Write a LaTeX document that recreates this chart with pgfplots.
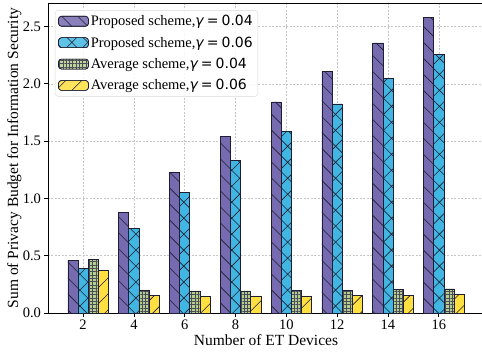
\documentclass[border=0pt]{standalone}
\usepackage{pgfplots}
\pgfplotsset{compat=1.18}
\usepackage{fontspec}
\setmainfont{Liberation Serif}
\newfontfamily\dejavu{DejaVu Sans}
\usetikzlibrary{patterns.meta}
\definecolor{cpur}{RGB}{118,107,176}
\definecolor{ccya}{RGB}{66,182,226}
\definecolor{cgre}{RGB}{180,206,140}
\definecolor{cyel}{RGB}{255,224,64}
\definecolor{cedge}{RGB}{30,30,50}
\newcommand{\g}[1]{{\dejavu\fontsize{14}{15}\selectfont{\itshape γ}\hspace{0.22em}=\hspace{0.22em}#1}}
\begin{document}
\begin{tikzpicture}
\begin{axis}[
  at={(0,0)}, anchor=south west,
  scale only axis, width=436pt, height=310pt,
  xmin=0.62, xmax=17.78, ymin=0, ymax=2.705,
  xtick={2,4,...,16}, ytick={0,0.5,...,2.5},
  yticklabel style={/pgf/number format/.cd, fixed, fixed zerofill, precision=1},
  /pgf/number format/assume math mode=true,
  ticklabel style={font=\fontsize{14.5}{16}\selectfont},
  label style={font=\fontsize{15.5}{18}\selectfont},
  xlabel={Number of ET Devices},
  ylabel={Sum of Privacy Budget for Information Security},
  ylabel style={at={(axis description cs:-0.077,0.5)}, anchor=center},
  xlabel style={at={(axis description cs:0.5,-0.087)}, anchor=center},
  tick align=outside, xtick pos=bottom, ytick pos=left,
  major tick length=3.5pt, tick style={black, line width=0.6pt},
  axis line style={black, line width=0.8pt},
  grid=major, grid style={gray!45, dash pattern=on 2pt off 1.5pt, line width=0.5pt},
  ybar, bar width=0.4,
  legend cell align=left,
  legend style={at={(axis description cs:0.016,0.977)}, anchor=north west,
    draw=gray!30, rounded corners=3pt, fill=white, fill opacity=0.85, text opacity=1,
    font=\fontsize{14.5}{16}\selectfont, row sep=5.5pt, inner sep=3pt},
  legend image code/.code={\draw[#1] (0pt,-5pt) rectangle (30pt,5pt);},
]
\addplot[bar shift=-0.4, fill=cpur, draw=cedge, line width=0.6pt,
  postaction={pattern={Lines[angle=-45,distance=11.3pt,line width=0.6pt]}, pattern color=cedge}]
  coordinates {(2,0.462) (4,0.875) (6,1.228) (8,1.544) (10,1.842) (12,2.108) (14,2.356) (16,2.582)};
\addplot[bar shift=0, fill=ccya, draw=cedge, line width=0.6pt,
  postaction={pattern={Hatch[angle=45,distance=11.3pt,line width=0.6pt]}, pattern color=cedge}]
  coordinates {(2,0.389) (4,0.740) (6,1.050) (8,1.330) (10,1.584) (12,1.825) (14,2.044) (16,2.254)};
\addplot[bar shift=0.4, fill=cgre, draw=cedge, line width=0.6pt,
  postaction={pattern={Hatch[angle=0,distance=3.3pt,line width=0.35pt]}, pattern color=cedge!80}]
  coordinates {(2,0.471) (4,0.200) (6,0.193) (8,0.193) (10,0.195) (12,0.196) (14,0.205) (16,0.210)};
\addplot[bar shift=0.8, fill=cyel, draw=cedge, line width=0.6pt,
  postaction={pattern={Lines[angle=45,distance=11.3pt,line width=0.6pt]}, pattern color=cedge}]
  coordinates {(2,0.375) (4,0.155) (6,0.146) (8,0.150) (10,0.149) (12,0.155) (14,0.155) (16,0.164)};
\legend{{Proposed scheme,\g{0.04}}, {Proposed scheme,\g{0.06}}, {Average scheme,\g{0.04}}, {Average scheme,\g{0.06}}}
\end{axis}
\pgfresetboundingbox
\path[use as bounding box] (-48pt,-41pt) rectangle (434pt,313pt);
\end{tikzpicture}
\end{document}
